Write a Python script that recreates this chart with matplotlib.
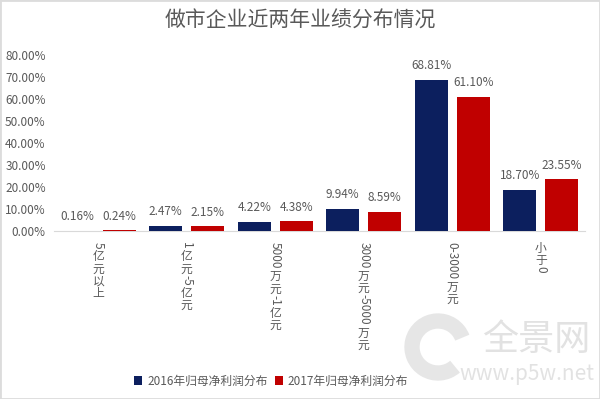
import matplotlib
matplotlib.use('Agg')
from matplotlib import pyplot as plt
from matplotlib.patches import Patch, Rectangle, Arc
import numpy as np

plt.rcParams['font.family'] = ['Noto Sans CJK SC', 'DejaVu Sans']

categories = ['5亿元以上', '1亿元-5亿元', '5000万元-1亿元', '3000万元-5000万元', '0-3000万元', '小于0']
share_2016 = [0.16, 2.47, 4.22, 9.94, 68.81, 18.70]
share_2017 = [0.24, 2.15, 4.38, 8.59, 61.10, 23.55]
series_names = ['2016年归母净利润分布', '2017年归母净利润分布']
yticks = [0, 10, 20, 30, 40, 50, 60, 70, 80]

navy = '#0c1f5e'
red = '#c00000'
grey = '#595959'

W, H = 600, 399
fig = plt.figure(figsize=(6, 3.99), dpi=100)
ax = fig.add_axes([54 / W, (H - 231) / H, 531 / W, 176 / H])

x = np.arange(len(categories))
w = 0.373
b1 = ax.bar(x - 0.237, share_2016, w, color=navy, zorder=3)
b2 = ax.bar(x + 0.237, share_2017, w, color=red, zorder=3)
for bars, vals in ((b1, share_2016), (b2, share_2017)):
    ax.bar_label(bars, labels=[f'{v:.2f}%' for v in vals], padding=5.5,
                 fontsize=8.5, color=grey)

ax.set_xlim(-0.5, len(categories) - 0.5)
ax.set_ylim(0, 80)
ax.set_yticks(yticks)
ax.set_yticklabels([f'{v:.2f}%' for v in yticks], fontsize=8.5, color=grey)
ax.set_xticks([])
ax.tick_params(length=0, pad=6)
for s in ('top', 'right', 'left'):
    ax.spines[s].set_visible(False)
ax.spines['bottom'].set_color('#d9d9d9')

# vertical category labels: CJK upright, ascii runs turned 90 degrees
fs = 8.5
renderer = fig.canvas.get_renderer()
for xi, lab in zip(x, categories):
    runs = []
    for ch in lab:
        asc = ord(ch) < 128
        if runs and asc and runs[-1][1]:
            runs[-1][0] += ch
        else:
            runs.append([ch, asc])
    cur = 8.0
    for txt, asc in runs:
        t = ax.annotate(txt, xy=(xi, 0), xycoords=('data', 'axes fraction'),
                        xytext=(0, -cur), textcoords='offset points',
                        ha='center', va='top', fontsize=fs, color=grey,
                        rotation=-90 if asc else 0, annotation_clip=False)
        if asc:
            ext = t.get_window_extent(renderer)
            cur += ext.height * 72 / fig.dpi + 1.2
        else:
            cur += fs * 1.03

fig.text(0.5, 1 - 21 / H, '做市企业近两年业绩分布情况', ha='center', va='center',
         fontsize=15, color=grey, fontweight='light')

fig.legend(handles=[Patch(facecolor=navy), Patch(facecolor=red)], labels=series_names,
           loc='center', bbox_to_anchor=(271 / W, 1 - 381 / H), ncol=2, frameon=False,
           handlelength=0.7, handleheight=0.7, handletextpad=0.4, columnspacing=0.6,
           fontsize=fs, labelcolor=grey)

# watermark
fig.text(536 / W, 1 - 340 / H, '全景网', ha='center', va='center', fontsize=26,
         color='#e2e2e2', zorder=0)
fig.text(527 / W, 1 - 374 / H, 'www.p5w.net', ha='center', va='center', fontsize=15,
         color='#e2e2e2', zorder=0)
fig.patches.append(Arc((438 / W, 1 - 347 / H), 52 / W, 52 / H, theta1=30, theta2=300,
                       lw=11, color='#e6e6e6', transform=fig.transFigure, zorder=0))

fig.patches.append(Rectangle((0, 0), 1, 1, transform=fig.transFigure, fill=False,
                             edgecolor='#dcdcdc', lw=2))

fig.savefig('out.png', dpi=100)
